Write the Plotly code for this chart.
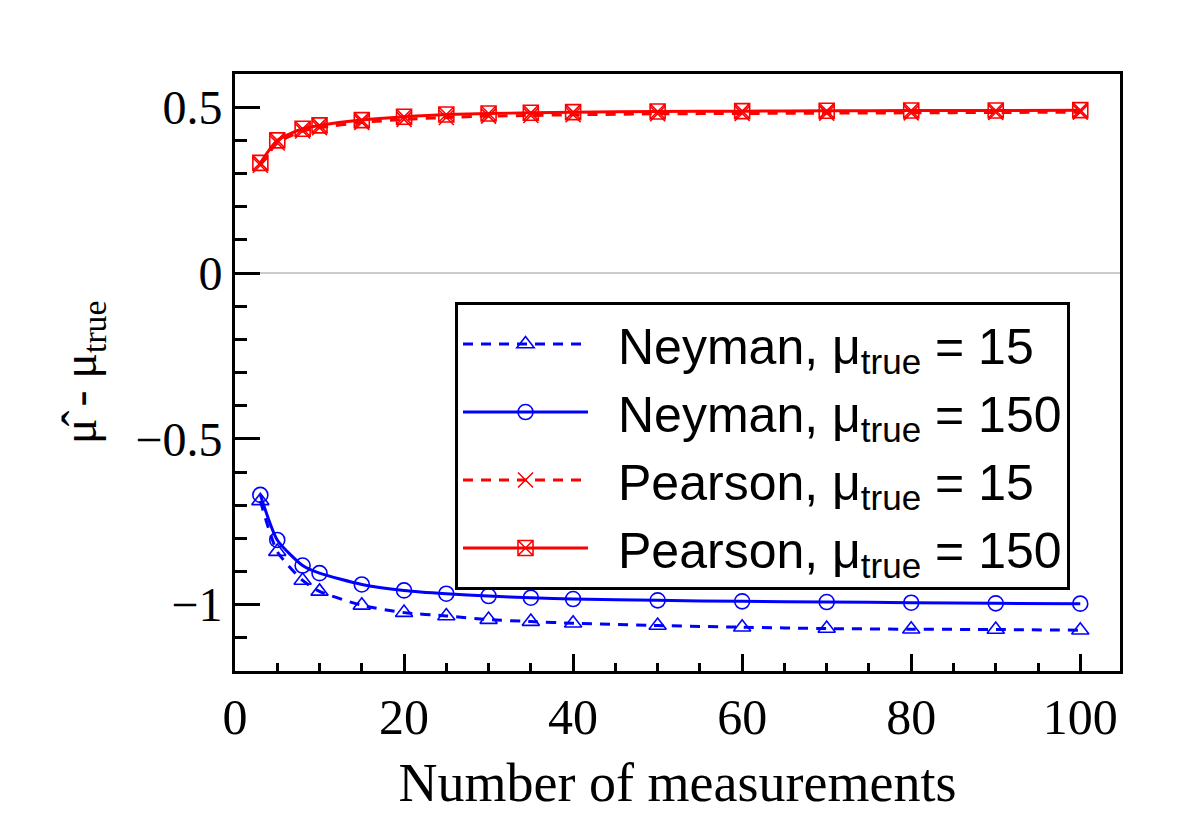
import plotly.graph_objects as go

# measurements
n_meas = [3, 5, 8, 10, 15, 20, 25, 30, 35, 40, 50, 60, 70, 80, 90, 100]

neyman_15 = [-0.687, -0.840, -0.927, -0.960, -1.002, -1.024, -1.034, -1.045, -1.051,
             -1.056, -1.063, -1.068, -1.072, -1.074, -1.075, -1.077]
neyman_150 = [-0.669, -0.805, -0.882, -0.905, -0.939, -0.957, -0.967, -0.974, -0.979,
              -0.983, -0.987, -0.990, -0.992, -0.994, -0.996, -0.997]
pearson_15 = [0.325, 0.392, 0.428, 0.438, 0.454, 0.463, 0.469, 0.473, 0.475,
              0.477, 0.480, 0.481, 0.482, 0.483, 0.484, 0.485]
pearson_150 = [0.332, 0.400, 0.435, 0.445, 0.461, 0.471, 0.478, 0.481, 0.483,
               0.485, 0.487, 0.488, 0.489, 0.490, 0.490, 0.491]

names = ["\u2002Neyman, μ<sub>true</sub> = 15", "\u2002Neyman, μ<sub>true</sub> = 150",
         "\u2002Pearson, μ<sub>true</sub> = 15", "\u2002Pearson, μ<sub>true</sub> = 150"]

x_ticks = [0, 20, 40, 60, 80, 100]
y_tickvals = [-1, -0.5, 0, 0.5]
y_ticktext = ["−1", "−0.5", "0", "0.5"]

BLUE = "#0000ff"
RED = "#ff0000"
DASH = "10px,8px"

fig = go.Figure()
series = [
    (neyman_15, names[0], BLUE, DASH, "triangle-up-open"),
    (neyman_150, names[1], BLUE, "solid", "circle-open"),
    (pearson_15, names[2], RED, DASH, "x-thin-open"),
    (pearson_150, names[3], RED, "solid", "square-x-open"),
]
for ys, nm, col, dash, sym in series:
    fig.add_trace(go.Scatter(
        x=n_meas, y=ys, name=nm, mode="lines+markers",
        line=dict(color=col, width=3, dash=dash, shape="spline", smoothing=0.6),
        marker=dict(symbol=sym, size=15, color=col, line=dict(color=col, width=1.6)),
    ))

serif = "Liberation Serif, Times New Roman, serif"
sans = "Liberation Sans Narrow, Liberation Sans, Arial, sans-serif"

fig.update_layout(
    width=1182, height=821,
    margin=dict(l=235, r=62, t=74, b=150),
    paper_bgcolor="white", plot_bgcolor="white",
    showlegend=True,
    legend=dict(
        x=0.2486, y=0.618, xanchor="left", yanchor="top",
        bordercolor="black", borderwidth=3, bgcolor="white",
        font=dict(family=sans, size=50, color="black"),
        itemwidth=125, tracegroupgap=0,
    ),
    xaxis=dict(
        range=[0, 104.7], tickvals=x_ticks, ticks="inside", ticklen=17, tickwidth=3,
        tickcolor="black", showline=True, linewidth=3, linecolor="black", mirror=True,
        showgrid=False, zeroline=False,
        tickfont=dict(family=serif, size=50, color="black"),
        minor=dict(ticks="inside", dtick=5, ticklen=8, tickwidth=3, tickcolor="black", showgrid=False),
        title=dict(text="Number of measurements", font=dict(family=serif, size=54, color="black"),
                   standoff=20),
    ),
    yaxis=dict(
        range=[-1.2, 0.6], tickvals=y_tickvals, ticktext=y_ticktext, ticks="inside",
        ticklen=25, tickwidth=3, tickcolor="black", showline=True, linewidth=3,
        linecolor="black", mirror=True, showgrid=False,
        zeroline=True, zerolinecolor="#cccccc", zerolinewidth=2,
        tickfont=dict(family=serif, size=48, color="black"),
        minor=dict(ticks="inside", dtick=0.1, ticklen=12, tickwidth=3, tickcolor="black", showgrid=False),
        title=dict(text="μ\u0302 - μ<sub>true</sub>", font=dict(family=serif, size=48, color="black"),
                   standoff=24),
    ),
)

fig.write_html("out.html")
